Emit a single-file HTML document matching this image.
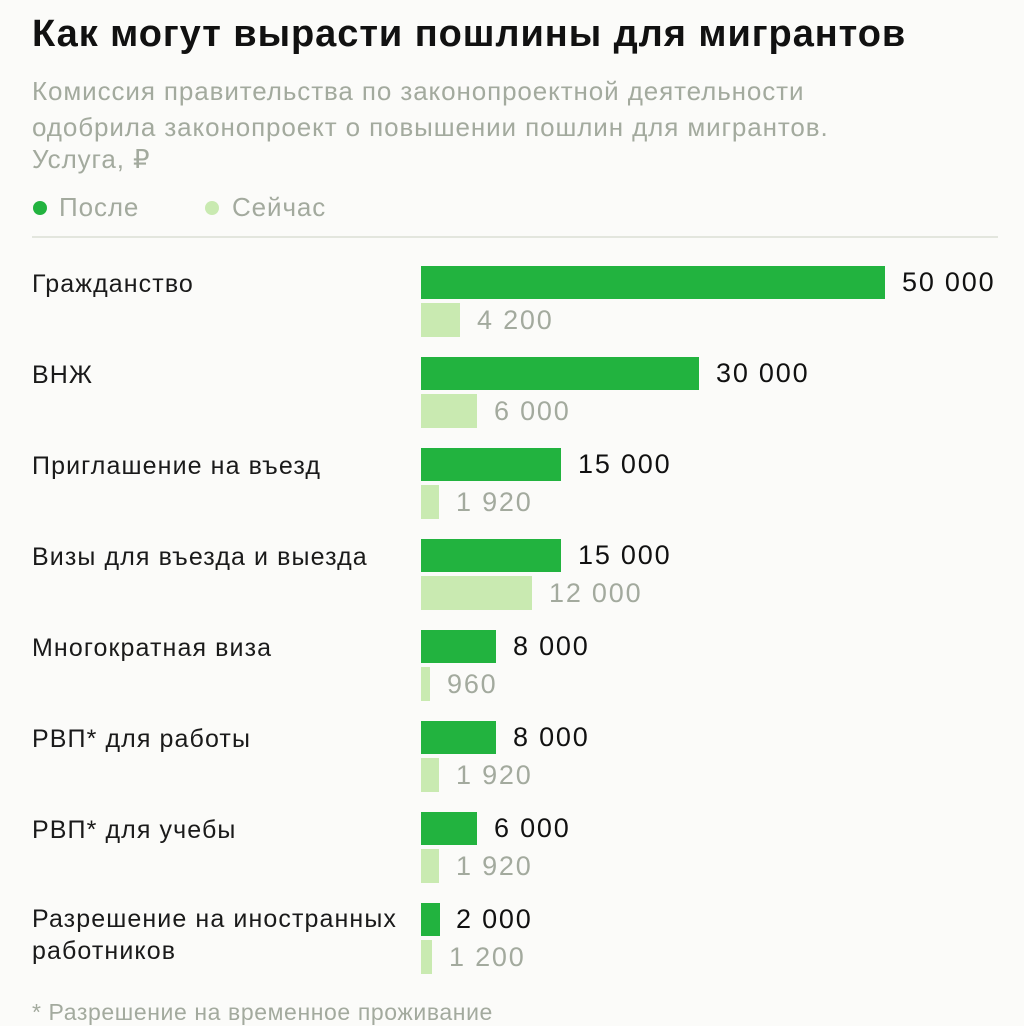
<!DOCTYPE html>
<html><head><meta charset="utf-8"><style>
body{margin:0;width:1024px;height:1024px;background:#fbfbf9;overflow:hidden;position:relative;font-family:"Liberation Sans","DejaVu Sans",sans-serif}
div{position:absolute;white-space:nowrap}
.t{left:32px;top:13px;font-size:38px;font-weight:bold;color:#111;letter-spacing:0.95px}
.s{left:32px;font-size:26px;color:#a3aa9e;letter-spacing:0.9px}
.l{left:32px;font-size:25px;color:#1a1a1a;letter-spacing:1.1px}
.d{left:421px;height:33px;background:#22b33f}
.w{left:421px;height:34px;background:#c9eab1}
.v{font-size:27px;color:#111;letter-spacing:1.8px}
.g{font-size:27px;color:#a3aa9e;letter-spacing:1.8px}
</style></head><body>
<div class="t">Как могут вырасти пошлины для мигрантов</div>
<div class="s" style="top:76px">Комиссия правительства по законопроектной деятельности</div>
<div class="s" style="top:112px">одобрила законопроект о повышении пошлин для мигрантов.</div>
<div class="s" style="top:144px">Услуга, ₽</div>
<div style="left:33px;top:201px;width:14px;height:14px;border-radius:50%;background:#22b33f"></div>
<div class="s" style="left:59px;top:192px">После</div>
<div style="left:205px;top:201px;width:14px;height:14px;border-radius:50%;background:#c9eab1"></div>
<div class="s" style="left:232px;top:192px">Сейчас</div>
<div style="left:32px;top:236px;width:966px;height:2px;background:#e3e6de"></div>

<div class="l" style="top:270px">Гражданство</div>
<div class="d" style="top:266px;width:464px"></div><div class="v" style="left:902px;top:267px">50 000</div>
<div class="w" style="top:303px;width:39px"></div><div class="g" style="left:477px;top:305px">4 200</div>

<div class="l" style="top:361px">ВНЖ</div>
<div class="d" style="top:357px;width:278px"></div><div class="v" style="left:716px;top:358px">30 000</div>
<div class="w" style="top:394px;width:56px"></div><div class="g" style="left:494px;top:396px">6 000</div>

<div class="l" style="top:452px">Приглашение на въезд</div>
<div class="d" style="top:448px;width:140px"></div><div class="v" style="left:578px;top:449px">15 000</div>
<div class="w" style="top:485px;width:18px"></div><div class="g" style="left:456px;top:487px">1 920</div>

<div class="l" style="top:543px">Визы для въезда и выезда</div>
<div class="d" style="top:539px;width:140px"></div><div class="v" style="left:578px;top:540px">15 000</div>
<div class="w" style="top:576px;width:111px"></div><div class="g" style="left:549px;top:578px">12 000</div>

<div class="l" style="top:634px">Многократная виза</div>
<div class="d" style="top:630px;width:75px"></div><div class="v" style="left:513px;top:631px">8 000</div>
<div class="w" style="top:667px;width:9px"></div><div class="g" style="left:447px;top:669px">960</div>

<div class="l" style="top:725px">РВП* для работы</div>
<div class="d" style="top:721px;width:75px"></div><div class="v" style="left:513px;top:722px">8 000</div>
<div class="w" style="top:758px;width:18px"></div><div class="g" style="left:456px;top:760px">1 920</div>

<div class="l" style="top:816px">РВП* для учебы</div>
<div class="d" style="top:812px;width:56px"></div><div class="v" style="left:494px;top:813px">6 000</div>
<div class="w" style="top:849px;width:18px"></div><div class="g" style="left:456px;top:851px">1 920</div>

<div class="l" style="top:905px">Разрешение на иностранных</div>
<div class="l" style="top:937px">работников</div>
<div class="d" style="top:903px;width:19px"></div><div class="v" style="left:456px;top:904px">2 000</div>
<div class="w" style="top:940px;width:11px"></div><div class="g" style="left:449px;top:942px">1 200</div>

<div class="s" style="top:999px;font-size:23px;letter-spacing:0.6px">* Разрешение на временное проживание</div>
</body></html>
